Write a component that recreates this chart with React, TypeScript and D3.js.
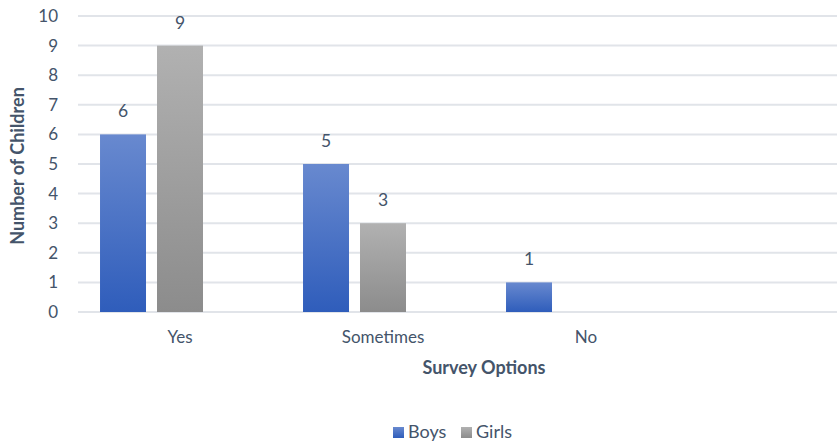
import React from "react";
import * as d3 from "d3";

const categories = ["Yes", "Sometimes", "No", ""];
const seriesNames = ["Boys", "Girls", ""];
const boys: (number | null)[] = [6, 5, 1, null];
const girls: (number | null)[] = [9, 3, null, null];
const third: (number | null)[] = [null, null, null, null];
const yTicks = [0, 1, 2, 3, 4, 5, 6, 7, 8, 9, 10];

const W = 837;
const H = 443;
const FONT = "Lato, 'Open Sans', sans-serif";
const TEXT = "#44546a";

export default function App() {
  const series = [boys, girls, third];
  const x = d3.scaleBand().domain(categories).range([78.5, 890.5]).paddingInner(0).paddingOuter(0);
  const bwCat = x.bandwidth();
  const inner = d3
    .scaleBand()
    .domain(["0", "1", "2"])
    .range([bwCat * 0.106, bwCat * 0.894])
    .paddingInner(0.193)
    .paddingOuter(0);
  const y = d3.scaleLinear().domain([0, 10]).range([312, 16]);
  const fills = ["url(#gBoys)", "url(#gGirls)", "none"];

  return (
    <svg width={W} height={H} style={{ display: "block", position: "absolute", left: 0, top: 0, background: "#fff" }}>
      <defs>
        <linearGradient id="gBoys" x1="0" y1="0" x2="0" y2="1">
          <stop offset="0" stopColor="#6889cf" />
          <stop offset="1" stopColor="#2f5dbb" />
        </linearGradient>
        <linearGradient id="gGirls" x1="0" y1="0" x2="0" y2="1">
          <stop offset="0" stopColor="#b1b1b1" />
          <stop offset="1" stopColor="#8c8c8c" />
        </linearGradient>
      </defs>
      {yTicks.map((t) => (
        <g key={t}>
          <line x1={78} x2={W} y1={y(t)} y2={y(t)} stroke="#e1e4e9" strokeWidth={2} />
          <text x={58} y={y(t)} dy="0.35em" textAnchor="end" fontFamily={FONT} fontSize={17} fill={TEXT}>
            {t}
          </text>
        </g>
      ))}
      {categories.map((c, ci) => (
        <g key={ci} transform={`translate(${x(c)},0)`}>
          {series.map((s, si) => {
            const v = s[ci];
            if (v == null || seriesNames[si] === "") return null;
            const bx = inner(String(si))!;
            const bw = inner.bandwidth();
            return (
              <g key={si}>
                <rect x={bx} y={y(v)} width={bw} height={y(0) - y(v)} fill={fills[si]} />
                <text x={bx + bw / 2} y={y(v) - 17} textAnchor="middle" fontFamily={FONT} fontSize={17.5} fill={TEXT}>
                  {v}
                </text>
              </g>
            );
          })}
          <text x={bwCat / 2} y={343} textAnchor="middle" fontFamily={FONT} fontSize={17} fill={TEXT}>
            {c}
          </text>
        </g>
      ))}
      <text
        transform="translate(24,166) rotate(-90)"
        textAnchor="middle"
        fontFamily={FONT}
        fontSize={18}
        fontWeight="bold"
        fill={TEXT}
      >
        Number of Children
      </text>
      <text x={484} y={374} textAnchor="middle" fontFamily={FONT} fontSize={18} fontWeight="bold" fill={TEXT}>
        Survey Options
      </text>
      <g fontFamily={FONT} fontSize={18} fill={TEXT}>
        <rect x={393} y={427} width={11} height={11} fill="url(#gBoys)" />
        <text x={408} y={438}>Boys</text>
        <rect x={461} y={427} width={11} height={11} fill="url(#gGirls)" />
        <text x={476} y={438}>Girls</text>
      </g>
    </svg>
  );
}
